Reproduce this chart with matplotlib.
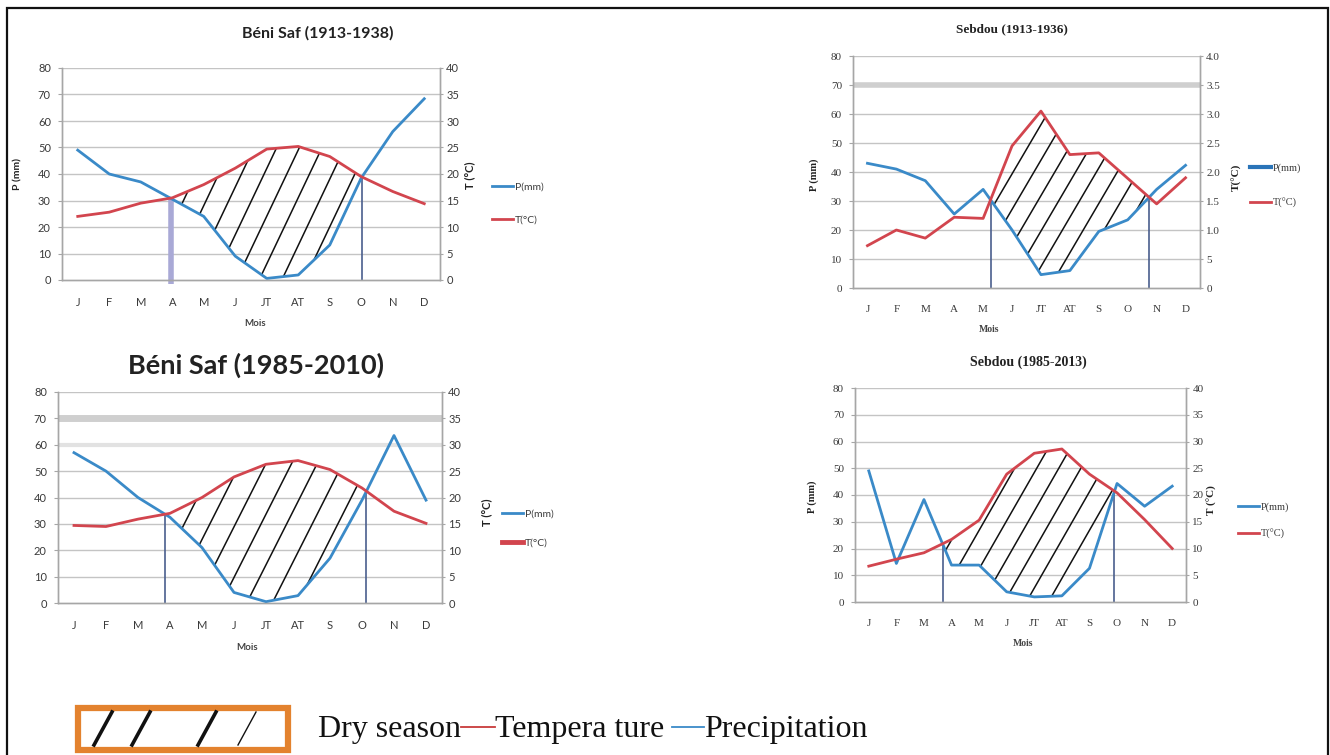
import numpy as np
import matplotlib
matplotlib.use("Agg")
import matplotlib.pyplot as plt
from matplotlib.patches import Rectangle
from matplotlib.lines import Line2D

# ---------------- data ----------------
months = ["J", "F", "M", "A", "M", "J", "JT", "AT", "S", "O", "N", "D"]

p_benisaf_1913 = [49, 40, 37, 30.5, 24, 9, 0.6, 1.9, 13.2, 38.5, 56, 68.4]
t_benisaf_1913 = [12, 12.8, 14.5, 15.5, 18, 21.1, 24.7, 25.2, 23.3, 19.5, 16.7, 14.4]

p_sebdou_1913 = [43, 41, 37, 25.5, 34, 20, 4.6, 6, 19.5, 23.5, 34, 42.3]
t_sebdou_1913 = [7.3, 10, 8.6, 12.2, 12, 24.5, 30.5, 23, 23.3, 18.9, 14.5, 19]

p_benisaf_1985 = [57, 50, 40, 32.5, 21, 4, 0.5, 2.8, 17, 39, 63.5, 39]
t_benisaf_1985 = [14.7, 14.5, 15.9, 17, 20, 23.9, 26.3, 27, 25.3, 21.8, 17.4, 15.1]

p_sebdou_1985 = [49, 14.4, 38.3, 13.8, 13.8, 3.8, 1.9, 2.3, 12.6, 44.3, 35.8, 43.3]
t_sebdou_1985 = [6.7, 8, 9.2, 11.7, 15.3, 23.9, 27.8, 28.6, 23.9, 20.4, 15.4, 10]

p_ticks = [0, 10, 20, 30, 40, 50, 60, 70, 80]
t_ticks = [0, 5, 10, 15, 20, 25, 30, 35, 40]
t_labels_std = ["0", "5", "10", "15", "20", "25", "30", "35", "40"]
t_labels_sebdou_1913 = ["0", "5", "1.0", "1.5", "2.0", "2.5", "3.0", "3.5", "4.0"]

titles = ["Béni Saf (1913-1938)", "Sebdou (1913-1936)",
          "Béni Saf (1985-2010)", "Sebdou (1985-2013)"]

legend_words = ["Dry season", "Tempera ture", "Precipitation"]

# ---------------- figure ----------------
W, H = 1330, 755
fig = plt.figure(figsize=(W / 100, H / 100), dpi=100)


def fx(x):
    return x / W


def fy(y):
    return 1 - y / H


def frect(l, t, r, b):
    return [l / W, 1 - b / H, (r - l) / W, (b - t) / H]


BLUE = "#3a8ac8"
RED = "#d2454e"
VLINE = "#4a5f8e"
GRID = "#c4c4c4"
SPINE = "#a6a6a6"
TXT = "#3a3a3a"

charts = [
    dict(rect=(62, 68, 440, 280), P=p_benisaf_1913, T=t_benisaf_1913, title=titles[0],
         tfont="Lato", tsize=11.5, tpos=(318, 33), font="Lato",
         tlabels=t_labels_std, slope=25, spacing=0.72,
         ylab=(18, 174, "P (mm)"), rlab=(470, 175, "T (°C)"),
         xlab=(255, 324), leg=(492, 182, 2.3), thick70=0, first_thick=True),
    dict(rect=(853, 56, 1200, 288), P=p_sebdou_1913, T=t_sebdou_1913, title=titles[1],
         tfont="Liberation Serif", tsize=9.5, tpos=(1012, 29), font="Liberation Serif",
         tlabels=t_labels_sebdou_1913, slope=17, spacing=0.72,
         ylab=(814, 175, "P (mm)"), rlab=(1237, 177, "T(°C)"),
         xlab=(989, 330), leg=(1250, 163, 2.4), thick70=4, first_thick=False),
    dict(rect=(58, 392, 442, 603), P=p_benisaf_1985, T=t_benisaf_1985, title=titles[2],
         tfont="Lato", tsize=19.5, tpos=(256, 365), font="Lato",
         tlabels=t_labels_std, slope=24, spacing=0.8,
         ylab=None, rlab=(487, 512, "T (°C)"),
         xlab=(247, 648), leg=(502, 509, 1.9), thick70=5, first_thick=False),
    dict(rect=(855, 388, 1186, 602), P=p_sebdou_1985, T=t_sebdou_1985, title=titles[3],
         tfont="Liberation Serif", tsize=10, tpos=(1028, 362), font="Liberation Serif",
         tlabels=t_labels_std, slope=18, spacing=0.8,
         ylab=(812, 497, "P (mm)"), rlab=(1212, 500, "T (°C)"),
         xlab=(1023, 643), leg=(1238, 502, 1.7), thick70=0, first_thick=False),
]

x = np.arange(len(months))

for c in charts:
    P = np.asarray(c["P"], dtype=float)
    T = np.asarray(c["T"], dtype=float)
    ax = fig.add_axes(frect(*c["rect"]))
    ax2 = ax.twinx()

    ax.set_xlim(-0.5, 11.5)
    ax.set_ylim(0, 80)
    ax2.set_ylim(0, 40)

    # grid
    ax.set_axisbelow(True)
    for v in p_ticks[1:]:
        ax.axhline(v, color=GRID, lw=1.0, zorder=0.3)
    if c["thick70"]:
        ax.axhline(70, color="#cfcfcf", lw=c["thick70"], zorder=0.35)
    if c is charts[2]:
        ax.axhline(60, color="#e2e2e2", lw=3, zorder=0.34)

    # dry season region (2T > P) around July
    xd = np.linspace(0, 11, 2201)
    pd_ = np.interp(xd, x, P)
    td2 = np.interp(xd, x, 2 * T)
    d = td2 - pd_
    i0 = int(np.argmin(np.abs(xd - 6)))
    a = i0
    while a > 0 and d[a - 1] > 0:
        a -= 1
    b = i0
    while b < len(xd) - 1 and d[b + 1] > 0:
        b += 1
    mask = np.zeros_like(xd, dtype=bool)
    mask[a:b + 1] = True

    poly = ax.fill_between(xd, pd_, td2, where=mask, facecolor="none",
                           edgecolor="none", interpolate=True, zorder=1)
    clip = poly.get_paths()[0]
    slope = c["slope"]
    for c0 in np.arange(xd[a] + 0.35 * c["spacing"] - 80 / slope, xd[b], c["spacing"]):
        ln, = ax.plot([c0, c0 + 80 / slope], [0, 80], color="#111111", lw=1.1, zorder=1.5)
        ln.set_clip_path(clip, ax.transData)

    # vertical boundary lines
    if c["first_thick"]:
        ax.plot([xd[a], xd[a]], [-1.5, pd_[a]], color="#a9a9d6", lw=4, zorder=1.2,
                clip_on=False, solid_capstyle="butt")
    else:
        ax.plot([xd[a], xd[a]], [0, pd_[a]], color=VLINE, lw=1.2, zorder=1.2)
    ax.plot([xd[b], xd[b]], [0, pd_[b]], color=VLINE, lw=1.2, zorder=1.2)

    # curves
    ax.plot(x, P, color=BLUE, lw=2.0, zorder=3, solid_joinstyle="round")
    ax2.plot(x, T, color=RED, lw=2.0, zorder=3, solid_joinstyle="round")

    # axes styling
    for a_ in (ax, ax2):
        a_.spines["top"].set_visible(False)
        for s in ("left", "right", "bottom"):
            a_.spines[s].set_color(SPINE)
            a_.spines[s].set_linewidth(1.0)
    ax.set_xticks(x)
    ax.set_xticklabels(months, fontsize=8, color=TXT, family=c["font"])
    ax.tick_params(axis="x", length=0, pad=12)
    ax.set_yticks(p_ticks)
    ax.set_yticklabels([str(v) for v in p_ticks], fontsize=8, color=TXT, family=c["font"])
    ax.tick_params(axis="y", length=3, color=SPINE, pad=5)
    ax2.set_yticks(t_ticks)
    ax2.set_yticklabels(c["tlabels"], fontsize=8, color=TXT, family=c["font"])
    ax2.tick_params(axis="y", length=2, color=SPINE, pad=2.5)

    # texts
    tx, ty = c["tpos"]
    fig.text(fx(tx), fy(ty), c["title"], ha="center", va="center",
             fontsize=c["tsize"], fontweight="bold", family=c["tfont"], color="#222222")
    if c["ylab"]:
        lx, ly, ls = c["ylab"]
        fig.text(fx(lx), fy(ly), ls, rotation=90, ha="center", va="center",
                 fontsize=7.5, fontweight="bold", family=c["font"], color="#222222")
    rx, ry, rs = c["rlab"]
    fig.text(fx(rx), fy(ry), rs, rotation=90, ha="center", va="center",
             fontsize=8, fontweight="bold", family=c["font"], color="#222222")
    mx, my = c["xlab"]
    fig.text(fx(mx), fy(my), "Mois", ha="center", va="center",
             fontsize=7, fontweight="bold", family=c["font"], color="#444444")

    gx, gy, gsp = c["leg"]
    hp = Line2D([], [], color="#2a74b8" if c is charts[1] else BLUE, lw=3 if c is charts[1] else 2)
    ht = Line2D([], [], color=RED, lw=3.5 if c is charts[2] else 2)
    fig.legend([hp, ht], ["P(mm)", "T(°C)"], loc="upper left",
               bbox_to_anchor=(fx(gx), fy(gy)), frameon=False,
               prop=dict(family=c["font"], size=7.5), labelcolor=TXT,
               handlelength=2.0, handletextpad=0.2, labelspacing=gsp,
               borderpad=0, borderaxespad=0)

# ---------------- bottom legend ----------------
fig.patches.append(Rectangle((fx(78), fy(750)), (288 - 78) / W, (750 - 708) / H,
                             transform=fig.transFigure, facecolor="white",
                             edgecolor="#e3822e", lw=4.5, zorder=5))
for sx, sw in zip([103, 141, 207, 247], [2.6, 2.6, 2.6, 1.0]):
    fig.lines.append(Line2D([fx(sx - 9), fx(sx + 9)], [fy(745), fy(712)],
                            transform=fig.transFigure, color="#111111", lw=sw, zorder=6))

renderer = fig.canvas.get_renderer()
cur = 318
dash_specs = [("#c83a3a", 0, 34), ("#3a8ac8", 8, 32)]
for i, word in enumerate(legend_words):
    t = fig.text(fx(cur), fy(729), word, ha="left", va="center", fontsize=23,
                 family="Liberation Serif", color="#111111")
    bb = t.get_window_extent(renderer=renderer)
    cur = bb.x1
    if i < len(dash_specs):
        col, gap, length = dash_specs[i]
        cur += gap
        fig.lines.append(Line2D([fx(cur), fx(cur + length)], [fy(727), fy(727)],
                                transform=fig.transFigure, color=col, lw=1.3))
        cur += length

# outer frame
fig.patches.append(Rectangle((fx(7), fy(770)), (1328 - 7) / W, (770 - 8) / H,
                             transform=fig.transFigure, facecolor="none",
                             edgecolor="#111111", lw=1.6, zorder=10, clip_on=False))

fig.savefig("out.png", dpi=100)
